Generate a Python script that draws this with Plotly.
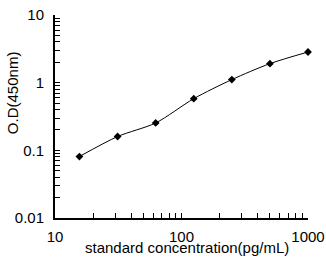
import plotly.graph_objects as go

conc = [15.6, 31.25, 62.5, 125, 250, 500, 1000]
od = [0.081, 0.16, 0.254, 0.58, 1.11, 1.91, 2.84]

x_tickvals = [10, 20, 30, 40, 50, 60, 70, 80, 90, 100, 200, 300, 400, 500, 600, 700, 800, 900, 1000]
x_ticktext = ["10", "", "", "", "", "", "", "", "", "100", "", "", "", "", "", "", "", "", "1000"]
y_tickvals = [0.01, 0.02, 0.03, 0.04, 0.05, 0.06, 0.07, 0.08, 0.09,
              0.1, 0.2, 0.3, 0.4, 0.5, 0.6, 0.7, 0.8, 0.9,
              1, 2, 3, 4, 5, 6, 7, 8, 9, 10]
y_ticktext = ["0.01"] + [""] * 8 + ["0.1"] + [""] * 8 + ["1"] + [""] * 8 + ["10"]

font = dict(family="Liberation Sans, Arial, sans-serif", size=15, color="black")

fig = go.Figure()
fig.add_trace(go.Scatter(
    x=conc, y=od, mode="lines+markers",
    line=dict(color="black", width=1, shape="spline", smoothing=0.8),
    marker=dict(symbol="diamond", size=6, color="black"),
    showlegend=False,
    cliponaxis=False,
))

fig.update_layout(
    width=326, height=260,
    margin=dict(l=55, r=18, t=15, b=42),
    paper_bgcolor="white", plot_bgcolor="white",
    font=font,
    xaxis=dict(type="log", range=[1, 3], tickvals=x_tickvals, ticktext=x_ticktext,
               ticks="inside", ticklen=5, tickcolor="black", tickwidth=1,
               showline=True, linecolor="black", linewidth=2, showgrid=False,
               zeroline=False, tickfont=font, ticklabelstandoff=4, automargin=False),
    yaxis=dict(type="log", range=[-2, 1], tickvals=y_tickvals, ticktext=y_ticktext,
               ticks="inside", ticklen=5, tickcolor="black", tickwidth=1,
               showline=True, linecolor="black", linewidth=2, showgrid=False,
               zeroline=False, tickfont=font, ticklabelstandoff=6, automargin=False),
)
fig.add_annotation(text="standard concentration(pg/mL)", xref="paper", yref="paper",
                   x=0.52, y=-0.145, xanchor="center", yanchor="middle",
                   showarrow=False, font=font)
fig.add_annotation(text="O.D(450nm)", xref="paper", yref="paper",
                   x=-0.17, y=0.62, xanchor="center", yanchor="middle", textangle=-90,
                   showarrow=False, font=font)

fig.write_html("out.html")
